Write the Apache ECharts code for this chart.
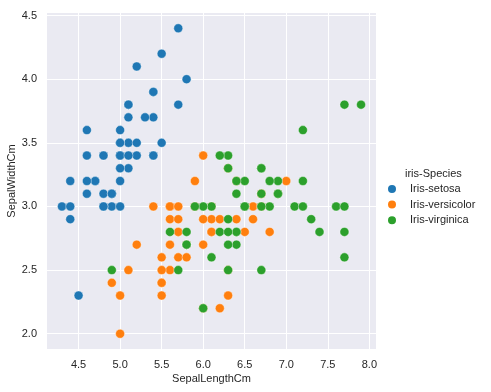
<!DOCTYPE html>
<html><head><meta charset="utf-8">
<script src="https://cdn.jsdelivr.net/npm/echarts@6/dist/echarts.min.js"></script>
<style>html,body{margin:0;padding:0;background:#fff}#c{width:491px;height:392px}</style>
</head><body><div id="c"></div>
<script>
const speciesNames = ['Iris-setosa', 'Iris-versicolor', 'Iris-virginica'];
const xTicks = [4.5, 5.0, 5.5, 6.0, 6.5, 7.0, 7.5, 8.0];
const yTicks = [2.0, 2.5, 3.0, 3.5, 4.0, 4.5];

const setosaLength = [5.1,4.9,4.7,4.6,5.0,5.4,4.6,5.0,4.4,4.9,5.4,4.8,4.8,4.3,5.8,5.7,5.4,5.1,5.7,5.1,5.4,5.1,4.6,5.1,4.8,5.0,5.0,5.2,5.2,4.7,4.8,5.4,5.2,5.5,4.9,5.0,5.5,4.9,4.4,5.1,5.0,4.5,4.4,5.0,5.1,4.8,5.1,4.6,5.3,5.0];
const setosaWidth  = [3.5,3.0,3.2,3.1,3.6,3.9,3.4,3.4,2.9,3.1,3.7,3.4,3.0,3.0,4.0,4.4,3.9,3.5,3.8,3.8,3.4,3.7,3.6,3.3,3.4,3.0,3.4,3.5,3.4,3.2,3.1,3.4,4.1,4.2,3.1,3.2,3.5,3.1,3.0,3.4,3.5,2.3,3.2,3.5,3.8,3.0,3.8,3.2,3.7,3.3];

const versicolorLength = [7.0,6.4,6.9,5.5,6.5,5.7,6.3,4.9,6.6,5.2,5.0,5.9,6.0,6.1,5.6,6.7,5.6,5.8,6.2,5.6,5.9,6.1,6.3,6.1,6.4,6.6,6.8,6.7,6.0,5.7,5.5,5.5,5.8,6.0,5.4,6.0,6.7,6.3,5.6,5.5,5.5,6.1,5.8,5.0,5.6,5.7,5.7,6.2,5.1,5.7];
const versicolorWidth  = [3.2,3.2,3.1,2.3,2.8,2.8,3.3,2.4,2.9,2.7,2.0,3.0,2.2,2.9,2.9,3.1,3.0,2.7,2.2,2.5,3.2,2.8,2.5,2.8,2.9,3.0,2.8,3.0,2.9,2.6,2.4,2.4,2.7,2.7,3.0,3.4,3.1,2.3,3.0,2.5,2.6,3.0,2.6,2.3,2.7,3.0,2.9,2.9,2.5,2.8];

const virginicaLength = [6.3,5.8,7.1,6.3,6.5,7.6,4.9,7.3,6.7,7.2,6.5,6.4,6.8,5.7,5.8,6.4,6.5,7.7,7.7,6.0,6.9,5.6,7.7,6.3,6.7,7.2,6.2,6.1,6.4,7.2,7.4,7.9,6.4,6.3,6.1,7.7,6.3,6.4,6.0,6.9,6.7,6.9,5.8,6.8,6.7,6.7,6.3,6.5,6.2,5.9];
const virginicaWidth  = [3.3,2.7,3.0,2.9,3.0,3.0,2.5,2.9,2.5,3.6,3.2,2.7,3.0,2.5,2.8,3.2,3.0,3.8,2.6,2.2,3.2,2.8,2.8,2.7,3.3,3.2,2.8,3.0,2.8,3.0,2.8,3.8,2.8,2.8,2.6,3.0,3.4,3.1,3.0,3.1,3.1,3.1,2.7,3.2,3.3,3.0,2.5,3.0,3.4,3.0];

const colors = ['#1f77b4', '#ff7f0e', '#2ca02c'];
const lengths = [setosaLength, versicolorLength, virginicaLength];
const widths = [setosaWidth, versicolorWidth, virginicaWidth];

const font = 'Liberation Sans, Arial, sans-serif';
const txt = '#262626';

const chart = echarts.init(document.getElementById('c'), null, {renderer: 'canvas'});
chart.setOption({
  animation: false,
  backgroundColor: '#ffffff',
  color: colors,
  title: {
    text: 'iris-Species', left: 400, top: 163,
    textStyle: {fontFamily: font, fontSize: 11, fontWeight: 'normal', color: txt}
  },
  legend: {
    orient: 'vertical', left: 386, top: 183, padding: 0, itemWidth: 10, itemHeight: 10, itemGap: 3.6,
    icon: 'circle',
    data: speciesNames,
    textStyle: {fontFamily: font, fontSize: 11, lineHeight: 10, color: txt, padding: [0, 0, 0, 8]}
  },
  grid: {left: 47, top: 13, width: 329, height: 336, backgroundColor: '#EAEAF2', show: true, borderWidth: 0,
    containLabel: false, outerBoundsMode: 'none'},
  xAxis: {
    type: 'value', min: 4.12, max: 8.08,
    name: 'SepalLengthCm', nameLocation: 'middle', nameGap: 24, nameMoveOverlap: false,
    nameTextStyle: {fontFamily: font, fontSize: 11, color: txt},
    axisLine: {show: false},
    axisTick: {show: false, customValues: xTicks},
    axisLabel: {customValues: xTicks, fontFamily: font, fontSize: 11, color: txt, margin: 10,
      formatter: v => v.toFixed(1)},
    splitLine: {show: true, lineStyle: {color: '#ffffff', width: 1}}
  },
  yAxis: {
    type: 'value', min: 1.88, max: 4.52,
    name: 'SepalWidthCm', nameLocation: 'middle', nameGap: 30, nameMoveOverlap: false,
    nameTextStyle: {fontFamily: font, fontSize: 11, color: txt},
    axisLine: {show: false},
    axisTick: {show: false, customValues: yTicks},
    axisLabel: {customValues: yTicks, fontFamily: font, fontSize: 11, color: txt, margin: 10,
      formatter: v => v.toFixed(1)},
    splitLine: {show: true, lineStyle: {color: '#ffffff', width: 1}}
  },
  series: speciesNames.map((name, i) => ({
    name: name, type: 'scatter', symbolSize: 9,
    itemStyle: {color: colors[i], opacity: 1, borderColor: '#ffffff', borderWidth: 0.4},
    data: lengths[i].map((x, j) => [x, widths[i][j]])
  }))
});
</script></body></html>
